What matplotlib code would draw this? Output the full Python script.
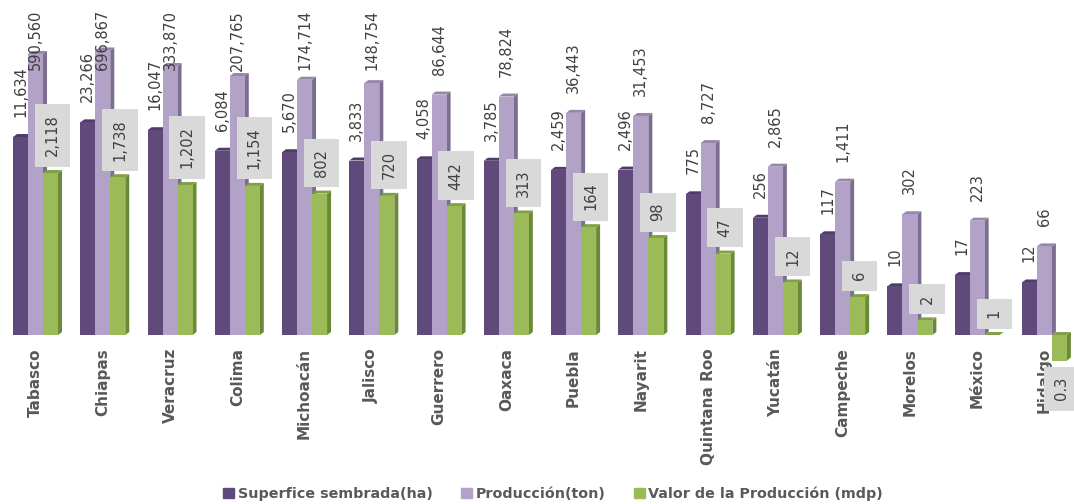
import numpy as np
import matplotlib.pyplot as plt
from matplotlib.patches import Polygon, Patch

# datos
estados = ['Tabasco', 'Chiapas', 'Veracruz', 'Colima', 'Michoacán', 'Jalisco',
           'Guerrero', 'Oaxaca', 'Puebla', 'Nayarit', 'Quintana Roo', 'Yucatán',
           'Campeche', 'Morelos', 'México', 'Hidalgo']
superficie = [11634, 23266, 16047, 6084, 5670, 3833, 4058, 3785, 2459, 2496,
              775, 256, 117, 10, 17, 12]
produccion = [590560, 696867, 333870, 207765, 174714, 148754, 86644, 78824,
              36443, 31453, 8727, 2865, 1411, 302, 223, 66]
valor = [2118, 1738, 1202, 1154, 802, 720, 442, 313, 164, 98, 47, 12, 6, 2, 1, 0.3]

series = [superficie, produccion, valor]
nombres = ['Superfice sembrada(ha)', 'Producción(ton)', 'Valor de la Producción (mdp)']
frente = ['#5f4a7b', '#b3a2c7', '#9bbb59']
lado = ['#45355a', '#7d6e8f', '#6b8a38']
arriba = ['#4f3d67', '#9686ab', '#7fa045']

W, H = 1074, 504
fig = plt.figure(figsize=(W / 100, H / 100), dpi=100)
ax = fig.add_axes([0, 0.236, 1, 0.764])
ax.set_yscale('log')
ax.set_xlim(-0.528, 15.44)
ax.set_ylim(10 ** -1.027, 10 ** 6.879)
ax.axis('off')

x = np.arange(len(estados))
ancho = 0.223
desp = [-ancho, 0, ancho]
dx, dy = 4, 3  # profundidad 3D en pixeles
gris = '#404040'

for j in range(3):
    vals = np.array(series[j], dtype=float)
    barras = ax.bar(x + desp[j], vals - 1, bottom=1, width=ancho, color=frente[j],
                    linewidth=0, zorder=10)
    for i, b in enumerate(barras):
        z = 10 + i * 10 + j * 3
        (x0, y0), (x1, y1) = ax.transData.transform(
            [(b.get_x(), min(1, vals[i])), (b.get_x() + ancho, max(1, vals[i]))])
        ax.add_patch(Polygon([(x1, y0), (x1 + dx, y0 + dy), (x1 + dx, y1 + dy), (x1, y1)],
                             closed=True, transform=None, color=lado[j], lw=0, zorder=z))
        ax.add_patch(Polygon([(x0, y1), (x1, y1), (x1 + dx, y1 + dy), (x0 + dx, y1 + dy)],
                             closed=True, transform=None, color=arriba[j], lw=0, zorder=z + 1))
        b.set_zorder(z + 2)

fig.canvas.draw()
rend = fig.canvas.get_renderer()

# etiquetas de datos
for j in range(3):
    for i, v in enumerate(series[j]):
        txt = '0.3' if v < 1 else f'{v:,.0f}'
        if j < 2:
            t = ax.annotate(txt, xy=(x[i] + desp[j], v), xytext=(0, 14.4),
                            textcoords='offset points', rotation=90, ha='center',
                            va='bottom', fontsize=10.5, color=gris, zorder=500)
            bb = t.get_window_extent(rend)
            if bb.y1 > H - 10:
                t.xyann = (0, 14.4 - (bb.y1 - (H - 10)) * 0.72)
        else:
            off = 12 if v >= 1 else -12
            t = ax.annotate(txt, xy=(x[i] + desp[j], v), xytext=(1.5, off),
                            textcoords='offset points', rotation=90, ha='center',
                            va='bottom' if v >= 1 else 'top', fontsize=10.5,
                            color=gris, zorder=500,
                            bbox=dict(boxstyle='square,pad=0.7', fc='#d9d9d9', ec='none'))

# nombres de los estados
for i, e in enumerate(estados):
    ax.annotate(e, xy=(x[i], 1), xytext=(0, -9.4), textcoords='offset points',
                rotation=90, ha='center', va='top', fontsize=11, fontweight='bold',
                color='#595959', zorder=1)

handles = [Patch(color=frente[k], label=nombres[k]) for k in range(3)]
leg = fig.legend(handles=handles, loc='lower center', bbox_to_anchor=(0.515, -0.02),
                 ncol=3, frameon=False, handlelength=0.75, handleheight=0.75,
                 handletextpad=0.25, columnspacing=2.0,
                 prop={'size': 10.3, 'weight': 'bold'})
for t in leg.get_texts():
    t.set_color('#595959')

fig.savefig('out.png', dpi=100)
